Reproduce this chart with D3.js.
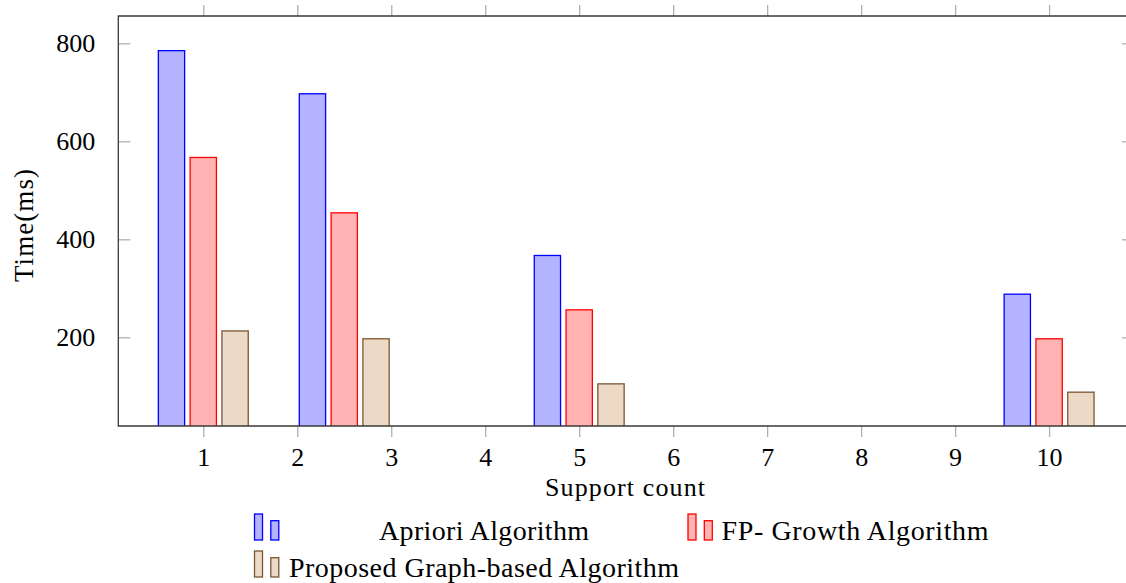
<!DOCTYPE html>
<html>
<head>
<meta charset="utf-8">
<script src="https://cdn.jsdelivr.net/npm/d3@7"></script>
<style>
  html, body { margin: 0; padding: 0; background: #fff; }
  svg { display: block; }
  text { font-family: "Liberation Serif", "Times New Roman", serif; fill: #000; }
</style>
</head>
<body>
<svg id="chart" width="1126" height="583"></svg>
<script>
// ---- data ----
const supportCounts = [1, 2.5, 5, 10];
const aprioriTimes = [785, 697, 367, 288];
const fpGrowthTimes = [567, 454, 256, 197];
const proposedTimes = [213, 197, 105, 88];
const xTickValues = [1, 2, 3, 4, 5, 6, 7, 8, 9, 10];
const yTickValues = [200, 400, 600, 800];
const seriesNames = ["Apriori Algorithm", "FP- Growth Algorithm", "Proposed Graph-based Algorithm"];
const xLabel = "Support count";
const yLabel = "Time(ms)";

(function () {
// ---- styles ----
const seriesStyles = [
  { fill: "#b3b3ff", stroke: "#0000ff" },
  { fill: "#ffb3b3", stroke: "#ff0000" },
  { fill: "#ecd9c6", stroke: "#7a5732" }
];

const svg = d3.select("#chart");
const pL = 118.3, pR = 1134, pT = 16, pB = 426;

const x = d3.scaleLinear().domain([0.0957, 10.9035]).range([pL, pR]);
const y = d3.scaleLinear().domain([0, 800]).range([435.3, 43.3]);

const barW = 26.3, barStep = 31.8;

// clip
svg.append("defs").append("clipPath").attr("id", "plotclip")
  .append("rect").attr("x", pL).attr("y", pT).attr("width", pR - pL).attr("height", pB - pT);

const series = [aprioriTimes, fpGrowthTimes, proposedTimes];
const plot = svg.append("g").attr("clip-path", "url(#plotclip)");
series.forEach((vals, si) => {
  plot.selectAll(null).data(vals).enter().append("rect")
    .attr("x", (d, i) => x(supportCounts[i]) + (si - 1) * barStep - barW / 2)
    .attr("width", barW)
    .attr("y", d => y(d))
    .attr("height", d => y(0) - y(d))
    .attr("fill", seriesStyles[si].fill)
    .attr("stroke", seriesStyles[si].stroke)
    .attr("stroke-width", 1.3);
});

// axes
const tickColor = "#b0b0b0";
const lineColor = "#3a3a3a";

// bottom axis
const xAxisBottom = d3.axisBottom(x).tickValues(xTickValues).tickSize(11).tickPadding(11).tickFormat(d3.format("d"));
const gxb = svg.append("g").attr("transform", `translate(0,${pB})`).call(xAxisBottom);
gxb.select(".domain").remove();
gxb.selectAll(".tick line").attr("stroke", tickColor).attr("stroke-width", 1.3);
gxb.selectAll(".tick text").attr("font-size", 26).attr("font-family", "Liberation Serif");

// top axis ticks (outward)
const xAxisTop = d3.axisTop(x).tickValues(xTickValues).tickSize(11).tickFormat("");
const gxt = svg.append("g").attr("transform", `translate(0,${pT})`).call(xAxisTop);
gxt.select(".domain").remove();
gxt.selectAll(".tick line").attr("stroke", tickColor).attr("stroke-width", 1.3);

// left axis (ticks inward)
const yAxisLeft = d3.axisLeft(y).tickValues(yTickValues).tickSize(-12).tickPadding(23);
const gyl = svg.append("g").attr("transform", `translate(${pL},0)`).call(yAxisLeft);
gyl.select(".domain").remove();
gyl.selectAll(".tick line").attr("stroke", tickColor).attr("stroke-width", 1.3);
gyl.selectAll(".tick text").attr("font-size", 26).attr("font-family", "Liberation Serif");

// right axis (ticks inward)
const yAxisRight = d3.axisRight(y).tickValues(yTickValues).tickSize(-12).tickFormat("");
const gyr = svg.append("g").attr("transform", `translate(${pR},0)`).call(yAxisRight);
gyr.select(".domain").remove();
gyr.selectAll(".tick line").attr("stroke", tickColor).attr("stroke-width", 1.3);

// frame lines
svg.append("path")
  .attr("d", `M${pL},${pT}H${pR}V${pB}H${pL}Z`)
  .attr("fill", "none").attr("stroke", lineColor).attr("stroke-width", 1.3);

// axis labels
svg.append("text").attr("x", 625).attr("y", 496).attr("text-anchor", "middle")
  .attr("font-size", 26).attr("textLength", 160).attr("lengthAdjust", "spacing").text(xLabel);
svg.append("text").attr("transform", "translate(33,225.5) rotate(-90)").attr("text-anchor", "middle")
  .attr("font-size", 27).attr("textLength", 113).attr("lengthAdjust", "spacing").text(yLabel);

// legend
const legendItems = [
  { col: 0, row: 0, len: 210 }, { col: 1, row: 0, len: 267 }, { col: 0, row: 1, len: 390 }
];
const colIconX = [254.5, 688];
const colTextX = [484, 721.5];
const colAnchor = ["middle", "start"];
const rowBase = [540, 577];
legendItems.forEach((it, si) => {
  const g = svg.append("g");
  const bx = colIconX[it.col], by = rowBase[it.row];
  g.append("rect").attr("x", bx).attr("y", by - 26).attr("width", 8).attr("height", 26)
    .attr("fill", seriesStyles[si].fill).attr("stroke", seriesStyles[si].stroke).attr("stroke-width", 1.3);
  g.append("rect").attr("x", bx + 16.3).attr("y", by - 19.3).attr("width", 8).attr("height", 19.3)
    .attr("fill", seriesStyles[si].fill).attr("stroke", seriesStyles[si].stroke).attr("stroke-width", 1.3);
  g.append("text").attr("x", colTextX[it.col]).attr("y", by).attr("text-anchor", colAnchor[it.col])
    .attr("font-size", 28).attr("textLength", it.len).attr("lengthAdjust", "spacing").text(seriesNames[si]);
});
})();
</script>
</body>
</html>
